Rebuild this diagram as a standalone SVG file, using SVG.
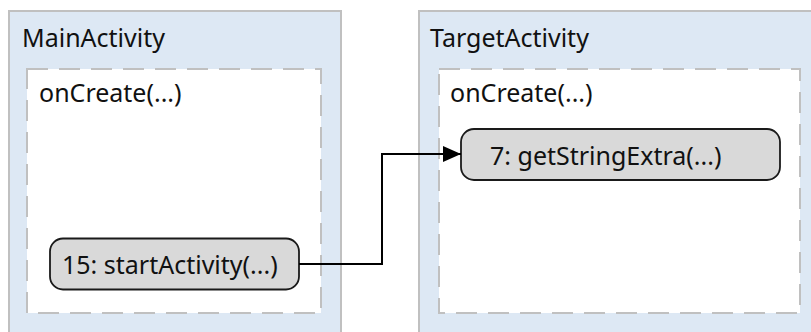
<svg xmlns="http://www.w3.org/2000/svg" width="811" height="332" viewBox="0 0 811 332">
  <style>
    .activity { fill: #dde8f4; stroke: #c0c0c0; stroke-width: 2; }
    .method { fill: #ffffff; stroke: #c0c0c0; stroke-width: 2; stroke-dasharray: 21 11; }
    .call { fill: #d9d9d9; stroke: #1a1a1a; stroke-width: 1.8; }
    .label { font-family: "Noto Sans", "Open Sans", sans-serif; font-size: 25px; fill: #111111; }
    .edge { fill: none; stroke: #000000; stroke-width: 2; }
  </style>
  <defs>
    <marker id="arrow" viewBox="0 0 18 16" refX="18" refY="8" markerWidth="18" markerHeight="16" markerUnits="userSpaceOnUse" orient="auto">
      <path d="M0,0 L18,8 L0,16 Z" fill="#000000"/>
    </marker>
  </defs>
  <rect width="811" height="332" fill="#ffffff"/>

  <g id="main-activity">
    <rect class="activity" x="9" y="11" width="332" height="340"/>
    <text class="label" x="22" y="47">MainActivity</text>
    <g id="main-oncreate">
      <rect class="method" x="27" y="69" width="294" height="244"/>
      <text class="label" x="39" y="102">onCreate(...)</text>
    </g>
  </g>

  <g id="target-activity">
    <rect class="activity" x="419" y="11" width="420" height="340"/>
    <text class="label" x="430" y="47">TargetActivity</text>
    <g id="target-oncreate">
      <rect class="method" x="439" y="69" width="361" height="244"/>
      <text class="label" x="450" y="102">onCreate(...)</text>
    </g>
  </g>

  <g id="start-activity">
    <rect class="call" x="50" y="238.5" width="249" height="51" rx="13"/>
    <text class="label" x="62" y="274">15: startActivity(...)</text>
  </g>

  <g id="get-string-extra">
    <rect class="call" x="461" y="129" width="319" height="51" rx="13"/>
    <text class="label" x="490" y="165">7: getStringExtra(...)</text>
  </g>

  <g id="connectors">
    <path class="edge" d="M299,264 H382 V154 H461" marker-end="url(#arrow)"/>
  </g>
</svg>
